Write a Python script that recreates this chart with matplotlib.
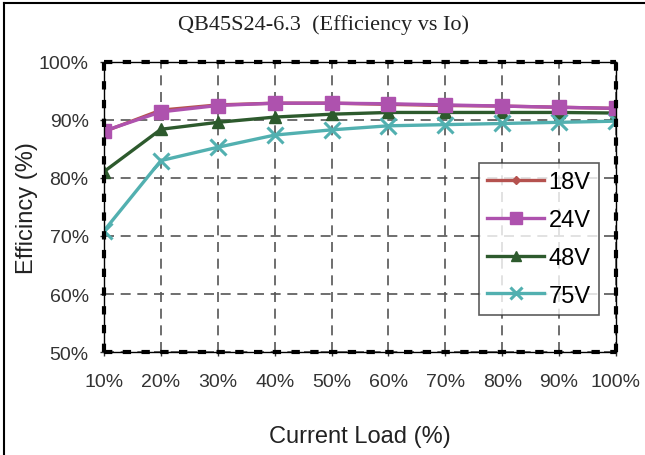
import matplotlib
matplotlib.use("Agg")
import matplotlib.pyplot as plt
from matplotlib.lines import Line2D

loads = [10, 20, 30, 40, 50, 60, 70, 80, 90, 100]
x_ticklabels = ["10%", "20%", "30%", "40%", "50%", "60%", "70%", "80%", "90%", "100%"]
y_ticks = [50, 60, 70, 80, 90, 100]
y_ticklabels = ["50%", "60%", "70%", "80%", "90%", "100%"]

eff_18v = [88.0, 91.7, 92.6, 92.9, 92.9, 92.7, 92.5, 92.4, 92.2, 92.0]
eff_24v = [88.1, 91.4, 92.5, 92.9, 92.9, 92.8, 92.6, 92.4, 92.2, 92.0]
eff_48v = [81.1, 88.4, 89.6, 90.5, 91.0, 91.3, 91.3, 91.3, 91.3, 91.2]
eff_75v = [70.9, 83.0, 85.3, 87.4, 88.3, 89.0, 89.2, 89.4, 89.6, 89.8]

plt.rcParams['font.family'] = ['Liberation Sans', 'DejaVu Sans']

fig = plt.figure(figsize=(6.45, 4.56), dpi=100)
W, H = 645, 456
ax = fig.add_axes([104 / W, 1 - 353 / H, (616 - 104) / W, (353 - 63) / H])

ax.plot(loads, eff_18v, color="#B5524F", lw=2.4, marker="D", ms=5, label="18V", zorder=3)
ax.plot(loads, eff_24v, color="#AE52AE", lw=2.4, marker="s", ms=10, label="24V", zorder=4)
ax.plot(loads, eff_48v, color="#2D5A2D", lw=2.4, marker="^", ms=9, label="48V", zorder=3)
ax.plot(loads, eff_75v, color="#52B0B0", lw=2.4, marker="x", ms=11, mew=2.2, label="75V", zorder=3)

ax.set_xlim(10, 100)
ax.set_ylim(50, 100)
ax.set_xticks(loads)
ax.set_xticklabels(x_ticklabels)
ax.set_yticks(y_ticks)
ax.set_yticklabels(y_ticklabels)
ax.tick_params(axis='both', labelsize=14, labelcolor="#333333", color="#333333",
               length=3, direction='out', width=1)
ax.tick_params(axis='x', pad=12)
ax.tick_params(axis='y', pad=8)

ax.grid(True, color="#555555", linestyle=(0, (6, 4)), linewidth=1.2)
ax.set_axisbelow(True)

for s in ax.spines.values():
    s.set_visible(False)
# frame: thin solid line + thick black dashes
for xs, ys in [([10, 100], [100, 100]), ([10, 100], [50, 50]), ([10, 10], [50, 100]), ([100, 100], [50, 100])]:
    ax.plot(xs, ys, color="black", lw=1.0, clip_on=False, zorder=5)
    ax.plot(xs, ys, color="black", lw=3.0, linestyle=(0, (2, 2.5)), clip_on=False, zorder=5)

ax.set_xlabel("Current Load (%)", fontsize=17, color="#222222")
ax.xaxis.set_label_coords(0.5, (353 - 426) / 290)
ax.set_ylabel("Efficincy (%)", fontsize=17, color="#222222")
ax.yaxis.set_label_coords((38 - 104) / 512, 0.5)

fig.text(323 / W, 1 - 25 / H, "QB45S24-6.3  (Efficiency vs Io)", ha="center", va="center",
         fontsize=16, family=["Liberation Serif", "DejaVu Serif"], color="#222222")

leg = ax.legend(loc="upper left", bbox_to_anchor=((479 - 104) / (616 - 104), 1 - (164 - 63) / (353 - 63)),
                fontsize=17, frameon=True, fancybox=False, edgecolor="#333333",
                handlelength=2.4, handletextpad=0.2, borderpad=0.35, labelspacing=0.67,
                borderaxespad=0, markerscale=0.8)
leg.get_frame().set_linewidth(1.2)
leg.set_zorder(6)

# border of the picture: only left and top edges visible
fig.add_artist(Line2D([4 / W, 4 / W], [0, 1 - 4 / H], transform=fig.transFigure, color="black", lw=1.5))
fig.add_artist(Line2D([4 / W, 1], [1 - 4 / H, 1 - 4 / H], transform=fig.transFigure, color="black", lw=1.5))

fig.savefig("out.png", dpi=100)
